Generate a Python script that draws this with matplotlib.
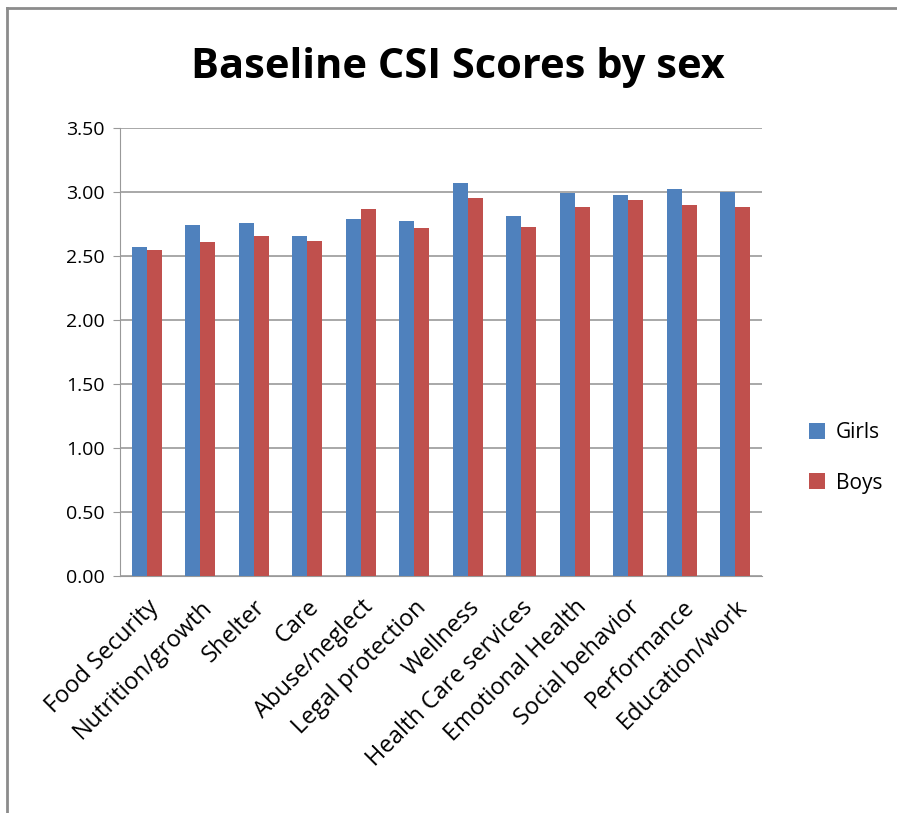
import matplotlib.pyplot as plt
import numpy as np
from matplotlib.lines import Line2D

categories = ["Food Security", "Nutrition/growth", "Shelter", "Care", "Abuse/neglect",
              "Legal protection", "Wellness", "Health Care services", "Emotional Health",
              "Social behavior", "Performance", "Education/work"]
girls = [2.57, 2.74, 2.76, 2.66, 2.79, 2.77, 3.07, 2.81, 2.99, 2.98, 3.02, 3.00]
boys = [2.55, 2.61, 2.66, 2.62, 2.87, 2.72, 2.95, 2.73, 2.88, 2.94, 2.90, 2.88]
yticks = [0.0, 0.5, 1.0, 1.5, 2.0, 2.5, 3.0, 3.5]

W, H = 897, 813
fig = plt.figure(figsize=(W / 100, H / 100), dpi=100)

# outer chart border (left and top edges visible)
fig.add_artist(Line2D([7 / W, 7 / W], [0, 1 - 8 / H], transform=fig.transFigure, color="#8c8c8c", lw=2))
fig.add_artist(Line2D([7 / W, 1], [1 - 8 / H, 1 - 8 / H], transform=fig.transFigure, color="#8c8c8c", lw=2))

ax = fig.add_axes([120 / W, 1 - 576 / H, (762 - 120) / W, (576 - 128) / H])

x = np.arange(len(categories))
w = 0.28
ax.bar(x - w / 2, girls, w, color="#4f81bd", label="Girls", zorder=3)
ax.bar(x + w / 2, boys, w, color="#c0504d", label="Boys", zorder=3)

ax.set_xlim(-0.5, len(categories) - 0.5)
ax.set_ylim(0, 3.5)
ax.set_yticks(yticks)
ax.set_yticklabels([f"{v:.2f}" for v in yticks], fontsize=14, family="Open Sans")
ax.yaxis.grid(True, color="#999999", lw=1.2, zorder=0)
ax.set_xticks(x)
ax.set_xticklabels(categories, rotation=45, ha="right", rotation_mode="anchor",
                   fontsize=17, family="Open Sans")
ax.tick_params(axis="x", length=0, pad=14)
ax.tick_params(axis="y", length=5, color="#999999", pad=6)

for s in ["top", "right"]:
    ax.spines[s].set_visible(False)
ax.spines["left"].set_color("#999999")
ax.spines["bottom"].set_color("#999999")

fig.text(458 / W, 1 - 68 / H, "Baseline CSI Scores by sex", ha="center", va="center",
         fontsize=30, fontweight="bold", family="Open Sans")

ax.legend(loc="center left", bbox_to_anchor=(790 / W, 1 - 458 / H), bbox_transform=fig.transFigure,
          frameon=False, prop={"family": "Open Sans", "size": 15}, handlelength=0.8,
          handleheight=0.8, labelspacing=1.4, handletextpad=0.5)

fig.savefig("out.png", dpi=100)
